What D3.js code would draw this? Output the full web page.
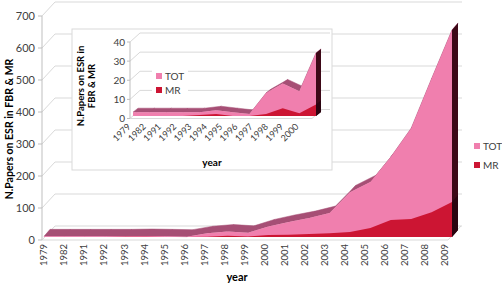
<!DOCTYPE html>
<html>
<head>
<meta charset="utf-8">
<script src="https://d3js.org/d3.v7.min.js"></script>
<style>
  body { margin: 0; background: #fff; }
  svg text { font-family: Lato, "Open Sans", sans-serif; fill: #404040; }
  .ttl { font-weight: bold; fill: #000; }
</style>
</head>
<body>
<svg id="chart" width="502" height="284"></svg>
<script>
// data
var years = ["1979","1982","1991","1992","1993","1994","1995","1996","1997","1998","1999",
             "2000","2001","2002","2003","2004","2005","2006","2007","2008","2009"];
var tot = [2, 2, 2, 2, 2, 3, 2, 1, 12, 17, 13, 33, 47, 59, 75, 140, 172, 250, 340, 495, 647];
var mr  = [0, 0, 0, 0, 0.5, 1, 0, 0, 1, 4, 1.5, 6, 7, 9, 12, 16, 28, 53, 56, 77, 109];
var mainTicks = [0, 100, 200, 300, 400, 500, 600, 700];

// inset: zoom on the first years
var insetYears = years.slice(0, 12);
var insetTot = tot.slice(0, 12);
var insetMr = mr.slice(0, 12);
var insetTicks = [0, 10, 20, 30, 40];

var legendNames = ["TOT", "MR"];
var colors = {TOT: "#f07fae", MR: "#cc1533", top: "#a64f75", side: "#3d0817", sideMr: "#2a0410"};

var svg = d3.select("#chart");

// draws one 3D-ish area: top face, front face, right side face
function area3d(g, xs, ys, vals, base, dx, dy, fill, topFill, sideFill) {
  var pts = vals.map(function(v, i) { return [xs(xs.domain()[i]), ys(v)]; });
  if (topFill) {
    var top = "";
    for (var i = 0; i < pts.length - 1; i++) {
      var a = pts[i], b = pts[i + 1];
      top += "M" + a + "L" + b + "L" + [b[0] + dx, b[1] + dy] + "L" + [a[0] + dx, a[1] + dy] + "Z";
    }
    g.append("path").attr("d", top).attr("fill", topFill).attr("stroke", topFill).attr("stroke-width", 0.5);
  }
  var ar = d3.area().x(function(d) { return d[0]; }).y0(base).y1(function(d) { return d[1]; });
  g.append("path").attr("d", ar(pts)).attr("fill", fill);
  var last = pts[pts.length - 1];
  g.append("path")
    .attr("d", "M" + [last[0], base] + "L" + last + "L" + [last[0] + dx, last[1] + dy] + "L" + [last[0] + dx, base + dy] + "Z")
    .attr("fill", sideFill);
}

// ---------- main chart ----------
var y = d3.scaleLinear().domain([0, 700]).range([240, 16]);
var yA = d3.scaleLinear().domain([0, 700]).range([237, 13]);
var x = d3.scalePoint().domain(years).range([44, 452]);
var xLab = d3.scalePoint().domain(years).range([44, 445]);
var wdx = 13, wdy = -14;

var main = svg.append("g");
main.selectAll(".grid").data(mainTicks).enter().append("path")
  .attr("d", function(d) { return "M42," + y(d) + "L" + (42 + wdx) + "," + (y(d) + wdy) + "L462," + (y(d) + wdy); })
  .attr("fill", "none").attr("stroke", "#d9d9d9");
main.append("line").attr("x1", 42).attr("x2", 42).attr("y1", y(700)).attr("y2", 240).attr("stroke", "#bfbfbf");
main.append("path").attr("d", "M42,240L448,240L461,226").attr("fill", "none").attr("stroke", "#d9d9d9");
main.selectAll(".tk").data(mainTicks).enter().append("line")
  .attr("x1", 38).attr("x2", 42).attr("y1", function(d) { return y(d); }).attr("y2", function(d) { return y(d); })
  .attr("stroke", "#bfbfbf");
main.selectAll(".yl").data(mainTicks).enter().append("text")
  .attr("x", 35).attr("y", function(d) { return y(d); }).attr("dy", "0.35em")
  .attr("text-anchor", "end").style("font-size", "11px").text(function(d) { return d; });
main.selectAll(".xl").data(years).enter().append("text")
  .attr("transform", function(d) { return "translate(" + xLab(d) + ",244) rotate(-90)"; })
  .attr("dy", "0.35em").attr("text-anchor", "end").style("font-size", "9.5px").text(function(d) { return d; });
main.append("text").attr("class", "ttl").attr("x", 237).attr("y", 281).attr("text-anchor", "middle")
  .style("font-size", "11px").text("year");
main.append("text").attr("class", "ttl").attr("transform", "translate(13,129) rotate(-90)")
  .attr("text-anchor", "middle").style("font-size", "10.5px").text("N.Papers on ESR in FBR & MR");

area3d(main, x, yA, tot, 237, 6, -7, colors.TOT, colors.top, colors.side);
area3d(main, x, yA, mr, 237, 6, -7, colors.MR, null, colors.sideMr);

var leg = main.selectAll(".lg").data(legendNames).enter().append("g")
  .attr("transform", function(d, i) { return "translate(474," + (143 + i * 19) + ")"; });
leg.append("rect").attr("width", 6).attr("height", 6).attr("fill", function(d) { return colors[d]; });
leg.append("text").attr("x", 9).attr("y", 3).attr("dy", "0.35em").style("font-size", "10px").text(function(d) { return d; });

// ---------- inset ----------
var yi = d3.scaleLinear().domain([0, 40]).range([118.5, 42]);
var yiA = d3.scaleLinear().domain([0, 40]).range([116, 39.5]);
var xi = d3.scalePoint().domain(insetYears).range([133, 316]);
var xiLab = d3.scalePoint().domain(insetYears).range([129, 297]);
var idx = 10, idy = -9;

var ins = svg.append("g");
ins.append("rect").attr("x", 72).attr("y", 29).attr("width", 260).attr("height", 141)
  .attr("fill", "#fff").attr("stroke", "#d9d9d9");
ins.selectAll(".grid").data(insetTicks).enter().append("path")
  .attr("d", function(d) { return "M130," + yi(d) + "L" + (130 + idx) + "," + (yi(d) + idy) + "L330," + (yi(d) + idy); })
  .attr("fill", "none").attr("stroke", "#d9d9d9");
ins.append("line").attr("x1", 130).attr("x2", 130).attr("y1", yi(40)).attr("y2", yi(0)).attr("stroke", "#bfbfbf");
ins.append("path").attr("d", "M130," + yi(0) + "L312," + yi(0) + "L322," + (yi(0) + idy))
  .attr("fill", "none").attr("stroke", "#d9d9d9");
ins.selectAll(".tk").data(insetTicks).enter().append("line")
  .attr("x1", 127).attr("x2", 130).attr("y1", function(d) { return yi(d); }).attr("y2", function(d) { return yi(d); })
  .attr("stroke", "#bfbfbf");
ins.selectAll(".yl").data(insetTicks).enter().append("text")
  .attr("x", 125).attr("y", function(d) { return yi(d); }).attr("dy", "0.35em")
  .attr("text-anchor", "end").style("font-size", "10px").text(function(d) { return d; });
ins.selectAll(".xl").data(insetYears).enter().append("text")
  .attr("transform", function(d) { return "translate(" + xiLab(d) + ",125) rotate(-45)"; })
  .attr("dy", "0.35em").attr("text-anchor", "end").style("font-size", "9px").text(function(d) { return d; });
ins.append("text").attr("class", "ttl").attr("x", 212).attr("y", 166).attr("text-anchor", "middle")
  .style("font-size", "10px").text("year");
ins.append("text").attr("class", "ttl").attr("transform", "translate(84,86) rotate(-90)")
  .attr("text-anchor", "middle").style("font-size", "9.5px").text("N.Papers on ESR in");
ins.append("text").attr("class", "ttl").attr("transform", "translate(95,86) rotate(-90)")
  .attr("text-anchor", "middle").style("font-size", "9.5px").text("FBR & MR");

area3d(ins, xi, yiA, insetTot, 116, 5, -4, colors.TOT, colors.top, colors.side);
area3d(ins, xi, yiA, insetMr, 116, 5, -4, colors.MR, null, colors.sideMr);

ins.append("rect").attr("x", 152).attr("y", 67).attr("width", 36).attr("height", 31).attr("fill", "#fff");
var ileg = ins.selectAll(".lg").data(legendNames).enter().append("g")
  .attr("transform", function(d, i) { return "translate(156," + (73 + i * 14) + ")"; });
ileg.append("rect").attr("width", 6).attr("height", 6).attr("fill", function(d) { return colors[d]; });
ileg.append("text").attr("x", 9).attr("y", 3).attr("dy", "0.35em").style("font-size", "10px").text(function(d) { return d; });
</script>
</body>
</html>
